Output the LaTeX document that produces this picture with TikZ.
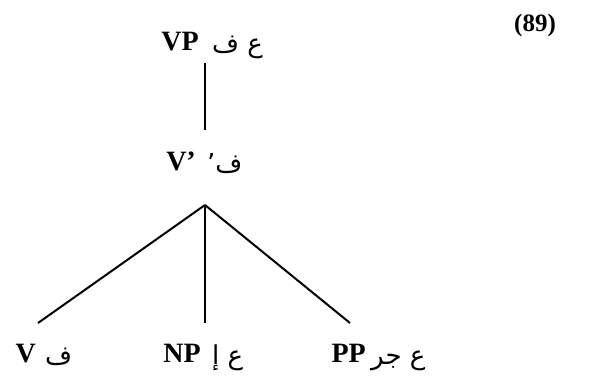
\documentclass[tikz,border=0pt]{standalone}
\usepackage{fontspec}
\setmainfont{Liberation Serif}
\newfontfamily\arabicfont[Script=Arabic]{DejaVu Sans}
\TeXXeTstate=1
\begin{document}
\begin{tikzpicture}[x=1pt,y=-1pt,
  lat/.style={font=\bfseries\fontsize{28}{32}\selectfont, inner sep=0pt},
  ar/.style={font=\arabicfont\fontsize{26}{30}\selectfont, inner sep=0pt},
  branch/.style={line width=2pt}]
\useasboundingbox (0,0) rectangle (596,378);
\node[font=\bfseries\fontsize{25}{29}\selectfont, inner sep=0pt, anchor=base] (num) at (535,31) {(89)};
% VP
\node[lat, anchor=base east] (vp) at (199,50) {VP};
\node[ar, anchor=base west] (vpa) at (212,52) {\beginR ع ف\endR};
% V'
\node[lat, anchor=base east] (vb) at (196,170) {V’};
\node[ar, anchor=base west] (vba) at (207,172) {\beginR ف’\endR};
% leaves
\node[lat, anchor=base east] (v) at (36,362) {V};
\node[ar, anchor=base west] (va) at (45,364) {\beginR ف\endR};
\node[lat, anchor=base east] (np) at (201,362) {NP};
\node[ar, anchor=base west] (npa) at (212,364) {\beginR ع إ\endR};
\node[lat, anchor=base east] (pp) at (366,362) {PP};
\node[ar, anchor=base west] (ppa) at (371,364) {\beginR ع جر\endR};
% tree joints
\coordinate (vpfoot) at (205,63);
\coordinate (vbhead) at (205,130);
\coordinate (apex) at (205,205);
\coordinate (vhead) at (38,323);
\coordinate (nphead) at (205,323);
\coordinate (pphead) at (350,323);
\draw[branch] (vpfoot) -- (vbhead);
\draw[branch] (apex) -- (vhead);
\draw[branch] (apex) -- (nphead);
\draw[branch] (apex) -- (pphead);
\end{tikzpicture}
\end{document}
